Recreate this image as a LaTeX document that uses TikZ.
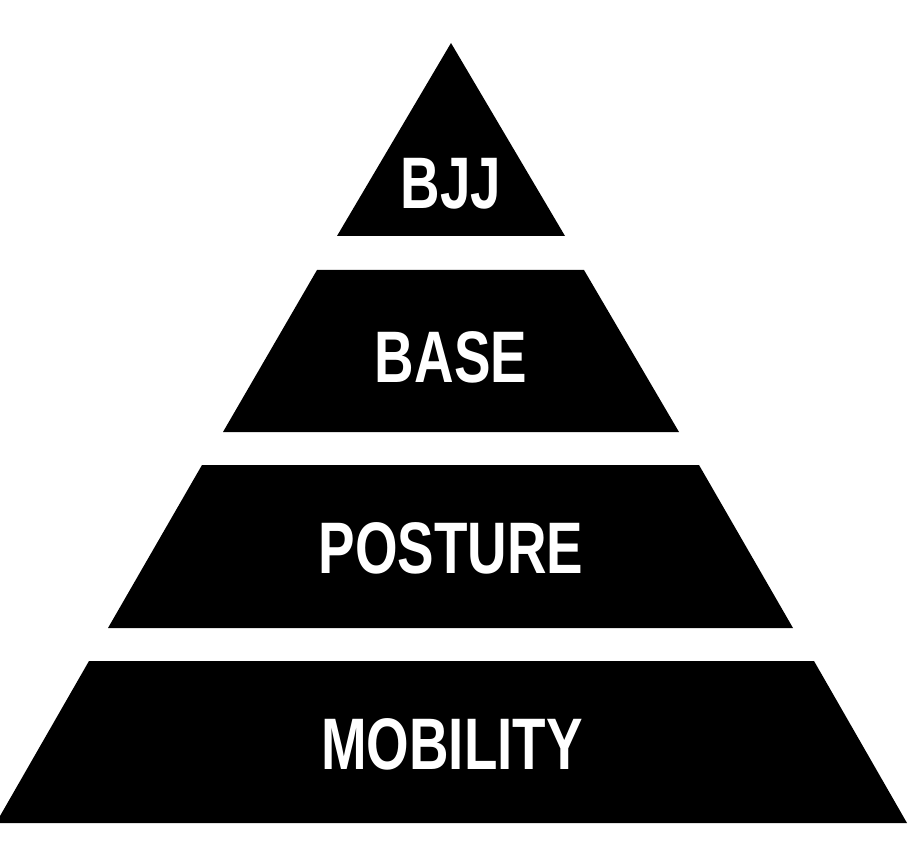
\documentclass[tikz,border=0pt]{standalone}
\usepackage{fontspec}
\newfontfamily\tierfont[FakeStretch=0.75]{Liberation Sans}

\tikzset{
  tier/.style={fill=black},
  tierlabel/.style={text=white, inner sep=0pt, font=\tierfont\bfseries\fontsize{73}{73}\selectfont}
}

\begin{document}
\begin{tikzpicture}[x=1pt, y=-1pt]
		\useasboundingbox (0,0) rectangle (908,850);

		% top
		\fill[tier] (451,43) -- (565,236) -- (337,236) -- cycle;
		\node[tierlabel] (bjj) at (451,184) {BJJ};

		% second
		\fill[tier] (317,270) -- (584,270) -- (679,432) -- (223,432) -- cycle;
		\node[tierlabel] (base) at (451,357) {BASE};

		% third
		\fill[tier] (202,465) -- (699,465) -- (793,628) -- (108,628) -- cycle;
		\node[tierlabel] (posture) at (451,548) {POSTURE};

		% bottom
		\fill[tier] (89,661) -- (814,661) -- (907,823) -- (-4,823) -- cycle;
		\node[tierlabel] (mobility) at (452,744) {MOBILITY};
\end{tikzpicture}
\end{document}
